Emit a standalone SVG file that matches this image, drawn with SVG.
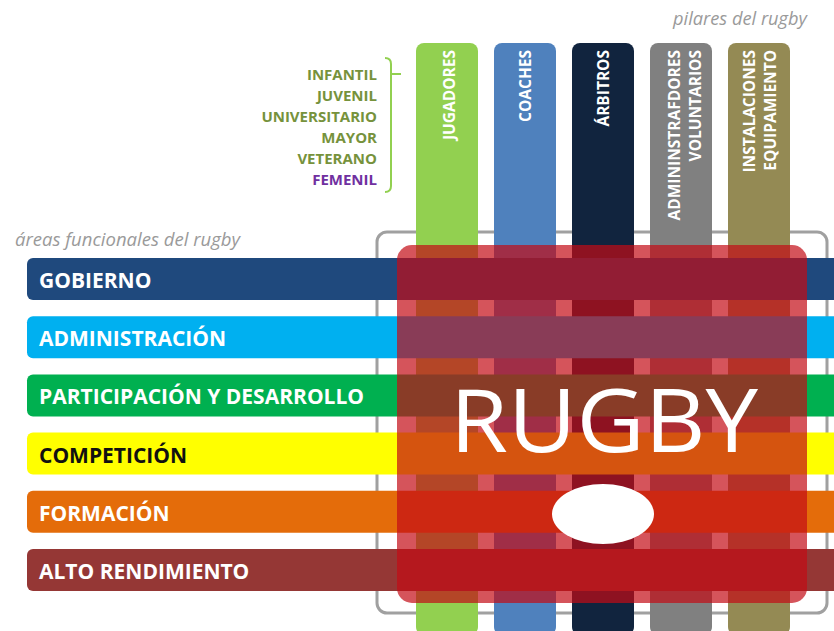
<svg xmlns="http://www.w3.org/2000/svg" width="834" height="631" viewBox="0 0 834 631">
<style>
.cap{font-family:"Open Sans","Liberation Sans",sans-serif;font-style:italic;fill:#9a9a9a;font-size:17.5px}
.cat{font-family:"Open Sans","Liberation Sans",sans-serif;font-weight:bold;font-size:15px;fill:#76923C;text-anchor:end}
.pil{font-family:"Open Sans","Liberation Sans",sans-serif;font-weight:bold;font-size:15.5px;fill:#fff;text-anchor:end}
.bar{font-family:"Open Sans","Liberation Sans",sans-serif;font-weight:bold;font-size:21px;fill:#fff}
</style>
<rect width="834" height="631" fill="#fff"/>
<text class="cap" x="673" y="25" textLength="134" lengthAdjust="spacingAndGlyphs">pilares del rugby</text>
<text class="cap" x="15" y="246" textLength="225" lengthAdjust="spacingAndGlyphs">áreas funcionales del rugby</text>
<g id="categorias">
<text class="cat" x="377" y="80">INFANTIL</text>
<text class="cat" x="377" y="101">JUVENIL</text>
<text class="cat" x="377" y="122">UNIVERSITARIO</text>
<text class="cat" x="377" y="143">MAYOR</text>
<text class="cat" x="377" y="164">VETERANO</text>
<text class="cat" x="377" y="185" style="fill:#7030A0">FEMENIL</text>
<path d="M385,58 Q391,58 391,64 L391,186 Q391,192 385,192 M391,74 L401,74" fill="none" stroke="#92D050" stroke-width="2"/>
</g>
<rect id="marco" x="377" y="232" width="450" height="381" rx="10" fill="none" stroke="#a0a0a0" stroke-width="3"/>
<g id="pilares">
<g id="jugadores"><rect x="416" y="43" width="62" height="592" rx="8" fill="#92D050"/><text class="pil" transform="translate(455,50) rotate(-90)">JUGADORES</text></g>
<g id="coaches"><rect x="494" y="43" width="62" height="592" rx="8" fill="#4F81BD"/><text class="pil" transform="translate(531,50) rotate(-90)">COACHES</text></g>
<g id="arbitros"><rect x="572" y="43" width="62" height="592" rx="8" fill="#11243E"/><text class="pil" transform="translate(609,50) rotate(-90)">ÁRBITROS</text></g>
<g id="administradores"><rect x="650" y="43" width="62" height="592" rx="8" fill="#808080"/><text class="pil" transform="translate(680,50) rotate(-90)">ADMININSTRAFDORES</text><text class="pil" transform="translate(701,50) rotate(-90)">VOLUNTARIOS</text></g>
<g id="instalaciones"><rect x="728" y="43" width="62" height="592" rx="8" fill="#948A54"/><text class="pil" transform="translate(755,50) rotate(-90)">INSTALACIONES</text><text class="pil" transform="translate(776,50) rotate(-90)">EQUIPAMIENTO</text></g>
</g>
<g id="areas">
<g id="gobierno"><rect x="27" y="258" width="830" height="42" rx="6" fill="#1F497D"/><text class="bar" x="39" y="288">GOBIERNO</text></g>
<g id="administracion"><rect x="27" y="316.2" width="830" height="42" rx="6" fill="#00B0F0"/><text class="bar" x="39" y="346.2">ADMINISTRACIÓN</text></g>
<g id="participacion"><rect x="27" y="374.4" width="830" height="42" rx="6" fill="#00B050"/><text class="bar" x="39" y="404.4">PARTICIPACIÓN Y DESARROLLO</text></g>
<g id="competicion"><rect x="27" y="432.6" width="830" height="42" rx="6" fill="#FFFF00"/><text class="bar" x="39" y="462.6" style="fill:#111">COMPETICIÓN</text></g>
<g id="formacion"><rect x="27" y="490.8" width="830" height="42" rx="6" fill="#E46C0A"/><text class="bar" x="39" y="520.8">FORMACIÓN</text></g>
<g id="alto"><rect x="27" y="549" width="830" height="42" rx="6" fill="#953735"/><text class="bar" x="39" y="579">ALTO RENDIMIENTO</text></g>
</g>
<g id="rugby">
<rect x="397" y="245" width="410" height="358" rx="15" fill="rgb(195,12,22)" fill-opacity="0.7"/>
<text x="604" y="452" text-anchor="middle" font-family="'Open Sans','Liberation Sans',sans-serif" font-size="87" fill="#fff" textLength="308" lengthAdjust="spacingAndGlyphs">RUGBY</text>
<ellipse cx="603" cy="514" rx="51" ry="30" fill="#fff"/>
</g>
</svg>
